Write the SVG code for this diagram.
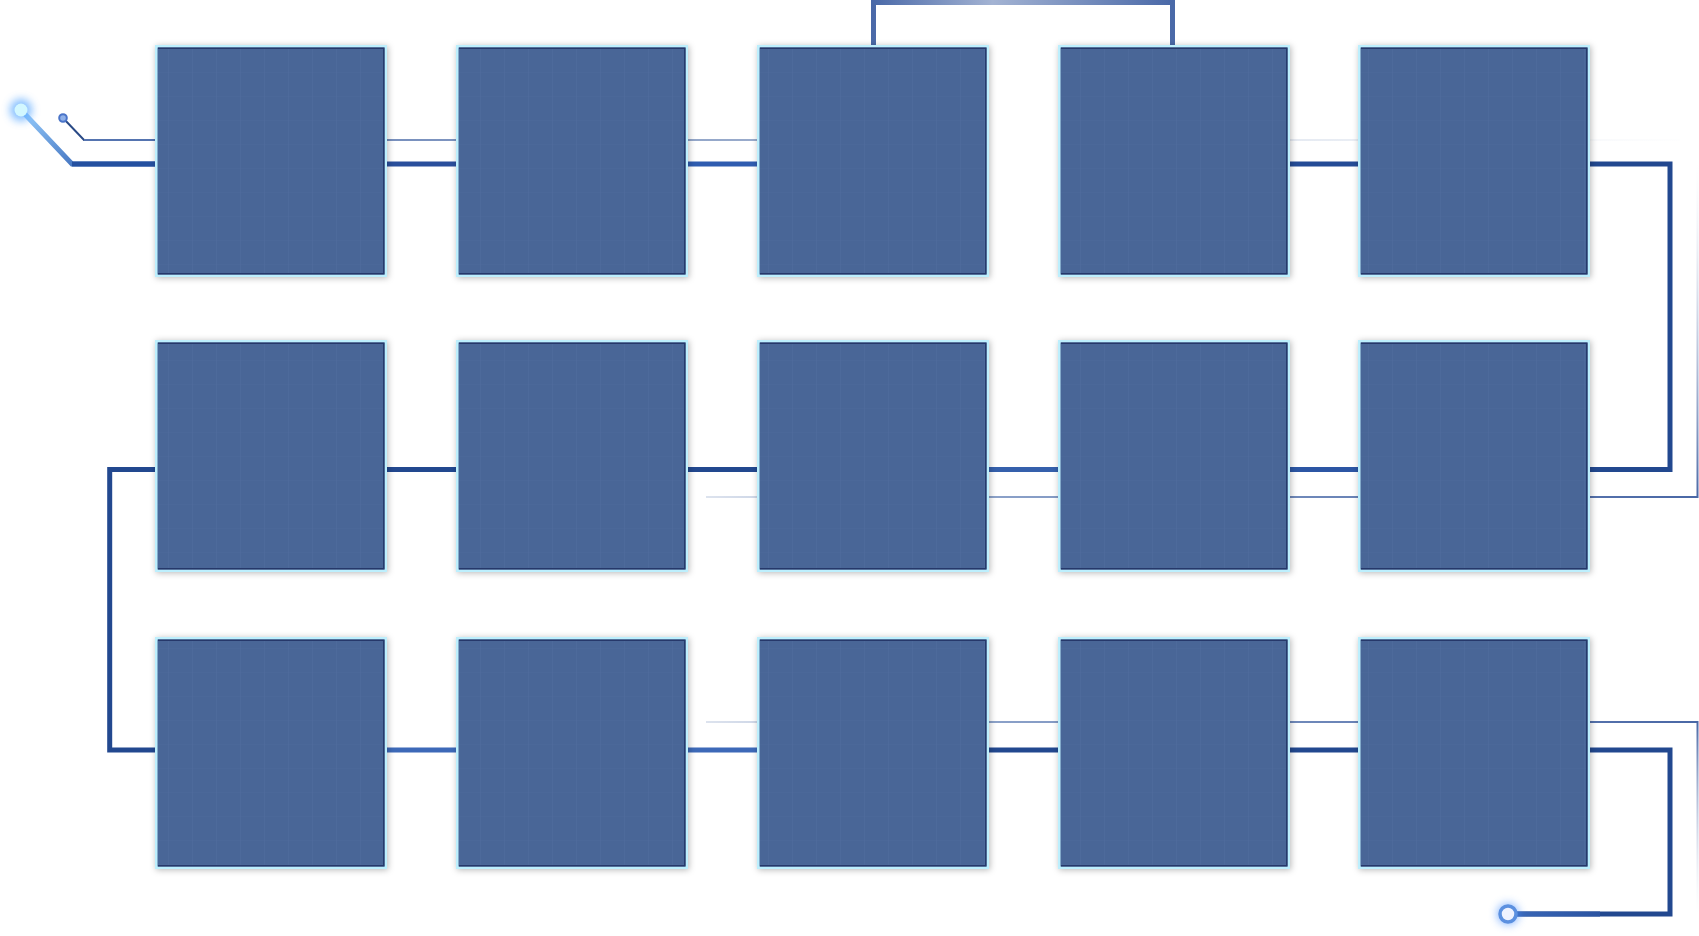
<svg xmlns="http://www.w3.org/2000/svg" width="1699" height="936" viewBox="0 0 1699 936">
<defs>
<style>
.thick{fill:none;stroke:#22488f;stroke-width:5;stroke-linejoin:miter}
.thin{fill:none;stroke-width:2}
.boxout{fill:#bdeffd}
.boxin{fill:url(#grid)}
.edge{fill:none;stroke:#26396a;stroke-width:1.5}
</style>
<pattern id="grid" width="24" height="24" patternUnits="userSpaceOnUse">
<rect width="24" height="24" fill="#4a6697"/>
<rect x="0" width="1" height="24" fill="#52709f" opacity="0.45"/>
<rect y="0" width="24" height="1" fill="#52709f" opacity="0.25"/>
</pattern>
<filter id="shadow" x="-10%" y="-10%" width="125%" height="125%">
<feDropShadow dx="1" dy="1" stdDeviation="3" flood-color="#000" flood-opacity="0.28"/>
</filter>
<filter id="blur4" x="-200%" y="-200%" width="500%" height="500%">
<feGaussianBlur stdDeviation="4"/>
</filter>
<linearGradient id="diag" x1="0" y1="0" x2="1" y2="1">
<stop offset="0" stop-color="#9ad0ff"/>
<stop offset="1" stop-color="#2251a8"/>
</linearGradient>
<linearGradient id="topbar" x1="873" y1="0" x2="1172" y2="0" gradientUnits="userSpaceOnUse">
<stop offset="0" stop-color="#4a69a8"/>
<stop offset="0.4" stop-color="#a3b3d3"/>
<stop offset="1" stop-color="#4a69a8"/>
</linearGradient>
<linearGradient id="fadeR" x1="706" y1="0" x2="1698" y2="0" gradientUnits="userSpaceOnUse">
<stop offset="0" stop-color="#dde3ee"/>
<stop offset="0.3" stop-color="#8aa0c8"/>
<stop offset="1" stop-color="#4a68a6"/>
</linearGradient>
<linearGradient id="fadeUp" x1="0" y1="497" x2="0" y2="160" gradientUnits="userSpaceOnUse">
<stop offset="0" stop-color="#4a68a6"/>
<stop offset="1" stop-color="#ffffff" stop-opacity="0.2"/>
</linearGradient>
<linearGradient id="fadeDown" x1="0" y1="722" x2="0" y2="915" gradientUnits="userSpaceOnUse">
<stop offset="0" stop-color="#4a68a6"/>
<stop offset="1" stop-color="#ffffff" stop-opacity="0.2"/>
</linearGradient>
<linearGradient id="fade1" x1="0" y1="0" x2="1699" y2="0" gradientUnits="userSpaceOnUse">
<stop offset="0" stop-color="#5472ae"/>
<stop offset="0.45" stop-color="#9aaccc"/>
<stop offset="0.7" stop-color="#dfe5ef"/>
<stop offset="1" stop-color="#ffffff"/>
</linearGradient>
<linearGradient id="endline" x1="1508" y1="0" x2="1670" y2="0" gradientUnits="userSpaceOnUse">
<stop offset="0" stop-color="#3a68b8"/>
<stop offset="1" stop-color="#1f4590"/>
</linearGradient>
</defs>

<g id="connectors">
<polyline class="thin" points="63,118 84,140 160,140" stroke="#2a4a86"/>
<line class="thin" x1="84" y1="140" x2="160" y2="140" stroke="#5574b0"/>
<line class="thin" x1="386" y1="140" x2="760" y2="140" stroke="url(#fade1)"/>
<line class="thin" x1="1288" y1="140" x2="1680" y2="140" stroke="url(#fade1)"/>
<polyline points="21,110 72,164 160,164" fill="none" stroke="url(#diag)" stroke-width="5"/>
<line x1="72" y1="164" x2="160" y2="164" stroke="#2450a0" stroke-width="5"/>
<line x1="385" y1="164" x2="460" y2="164" stroke="#2a4f9c" stroke-width="5"/>
<line x1="686" y1="164" x2="760" y2="164" stroke="#2f5cb0" stroke-width="5"/>
<line x1="1288" y1="164" x2="1362" y2="164" stroke="#244b96" stroke-width="5"/>
<polyline points="873.5,48 873.5,2.5 1172.5,2.5 1172.5,48" fill="none" stroke="url(#topbar)" stroke-width="5"/>
<polyline class="thick" points="1586,164 1670,164 1670,469.5 1586,469.5"/>
<line class="thick" x1="385" y1="469.5" x2="460" y2="469.5"/>
<line class="thick" x1="686" y1="469.5" x2="760" y2="469.5"/>
<line x1="987" y1="469.5" x2="1061" y2="469.5" stroke="#3560ac" stroke-width="5"/>
<line x1="1288" y1="469.5" x2="1362" y2="469.5" stroke="#2c56a4" stroke-width="5"/>
<polyline class="thin" points="706,497 1697.5,497" stroke="url(#fadeR)"/>
<line class="thin" x1="1697.5" y1="498" x2="1697.5" y2="160" stroke="url(#fadeUp)"/>
<polyline class="thick" points="160,469.5 109.7,469.5 109.7,750 160,750"/>
<line x1="385" y1="750" x2="460" y2="750" stroke="#3d69b8" stroke-width="5"/>
<line x1="686" y1="750" x2="760" y2="750" stroke="#3d69b8" stroke-width="5"/>
<line class="thick" x1="987" y1="750" x2="1061" y2="750"/>
<line class="thick" x1="1288" y1="750" x2="1362" y2="750"/>
<polyline class="thin" points="706,722 1697.5,722" stroke="url(#fadeR)"/>
<line class="thin" x1="1697.5" y1="721" x2="1697.5" y2="916" stroke="url(#fadeDown)"/>
<polyline class="thick" points="1586,750 1670,750 1670,914 1515,914" stroke="url(#endline)"/>
<line x1="1508" y1="914" x2="1600" y2="914" stroke="url(#endline)" stroke-width="5"/>
<circle cx="21" cy="110" r="11" fill="#5aa8ff" opacity="0.75" filter="url(#blur4)"/>
<circle cx="21" cy="110" r="6.5" fill="#d2f7ff"/>
<circle cx="63" cy="118" r="3.8" fill="#8fb0e8" stroke="#4a74c8" stroke-width="2"/>
<circle cx="1508" cy="914" r="11" fill="#4a90ff" opacity="0.6" filter="url(#blur4)"/>
<circle cx="1508" cy="914" r="8" fill="#eef2ff" stroke="#5b90e0" stroke-width="3.5"/>
</g>

<g id="n1" filter="url(#shadow)"><rect class="boxout" x="155" y="45" width="232" height="232"/><rect class="boxin" x="157.5" y="47.5" width="227" height="227"/><polyline class="edge" points="158,48.2 383.8,48.2 383.8,273.8 158,273.8"/></g>
<g id="n2" filter="url(#shadow)"><rect class="boxout" x="456" y="45" width="232" height="232"/><rect class="boxin" x="458.5" y="47.5" width="227" height="227"/><polyline class="edge" points="459,48.2 684.8,48.2 684.8,273.8 459,273.8"/></g>
<g id="n3" filter="url(#shadow)"><rect class="boxout" x="757" y="45" width="232" height="232"/><rect class="boxin" x="759.5" y="47.5" width="227" height="227"/><polyline class="edge" points="760,48.2 985.8,48.2 985.8,273.8 760,273.8"/></g>
<g id="n4" filter="url(#shadow)"><rect class="boxout" x="1058" y="45" width="232" height="232"/><rect class="boxin" x="1060.5" y="47.5" width="227" height="227"/><polyline class="edge" points="1061,48.2 1286.8,48.2 1286.8,273.8 1061,273.8"/></g>
<g id="n5" filter="url(#shadow)"><rect class="boxout" x="1358" y="45" width="232" height="232"/><rect class="boxin" x="1360.5" y="47.5" width="227" height="227"/><polyline class="edge" points="1361,48.2 1586.8,48.2 1586.8,273.8 1361,273.8"/></g>

<g id="n6" filter="url(#shadow)"><rect class="boxout" x="155" y="340" width="232" height="232"/><rect class="boxin" x="157.5" y="342.5" width="227" height="227"/><polyline class="edge" points="158,343.2 383.8,343.2 383.8,568.8 158,568.8"/></g>
<g id="n7" filter="url(#shadow)"><rect class="boxout" x="456" y="340" width="232" height="232"/><rect class="boxin" x="458.5" y="342.5" width="227" height="227"/><polyline class="edge" points="459,343.2 684.8,343.2 684.8,568.8 459,568.8"/></g>
<g id="n8" filter="url(#shadow)"><rect class="boxout" x="757" y="340" width="232" height="232"/><rect class="boxin" x="759.5" y="342.5" width="227" height="227"/><polyline class="edge" points="760,343.2 985.8,343.2 985.8,568.8 760,568.8"/></g>
<g id="n9" filter="url(#shadow)"><rect class="boxout" x="1058" y="340" width="232" height="232"/><rect class="boxin" x="1060.5" y="342.5" width="227" height="227"/><polyline class="edge" points="1061,343.2 1286.8,343.2 1286.8,568.8 1061,568.8"/></g>
<g id="n10" filter="url(#shadow)"><rect class="boxout" x="1358" y="340" width="232" height="232"/><rect class="boxin" x="1360.5" y="342.5" width="227" height="227"/><polyline class="edge" points="1361,343.2 1586.8,343.2 1586.8,568.8 1361,568.8"/></g>

<g id="n11" filter="url(#shadow)"><rect class="boxout" x="155" y="637" width="232" height="232"/><rect class="boxin" x="157.5" y="639.5" width="227" height="227"/><polyline class="edge" points="158,640.2 383.8,640.2 383.8,865.8 158,865.8"/></g>
<g id="n12" filter="url(#shadow)"><rect class="boxout" x="456" y="637" width="232" height="232"/><rect class="boxin" x="458.5" y="639.5" width="227" height="227"/><polyline class="edge" points="459,640.2 684.8,640.2 684.8,865.8 459,865.8"/></g>
<g id="n13" filter="url(#shadow)"><rect class="boxout" x="757" y="637" width="232" height="232"/><rect class="boxin" x="759.5" y="639.5" width="227" height="227"/><polyline class="edge" points="760,640.2 985.8,640.2 985.8,865.8 760,865.8"/></g>
<g id="n14" filter="url(#shadow)"><rect class="boxout" x="1058" y="637" width="232" height="232"/><rect class="boxin" x="1060.5" y="639.5" width="227" height="227"/><polyline class="edge" points="1061,640.2 1286.8,640.2 1286.8,865.8 1061,865.8"/></g>
<g id="n15" filter="url(#shadow)"><rect class="boxout" x="1358" y="637" width="232" height="232"/><rect class="boxin" x="1360.5" y="639.5" width="227" height="227"/><polyline class="edge" points="1361,640.2 1586.8,640.2 1586.8,865.8 1361,865.8"/></g>
</svg>
